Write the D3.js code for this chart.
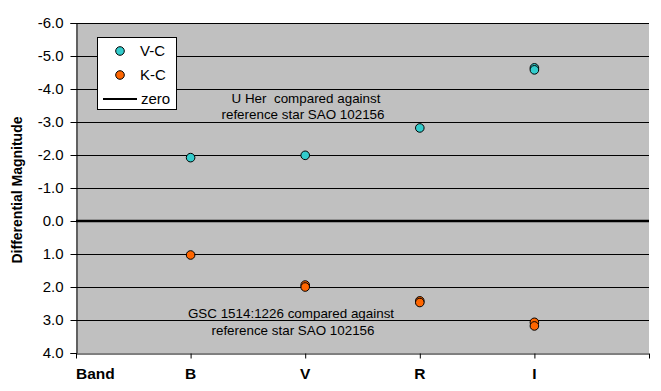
<!DOCTYPE html>
<html><head><meta charset="utf-8">
<script src="https://cdn.jsdelivr.net/npm/d3@7"></script>
<style>
body{margin:0;background:#fff;}
svg{display:block;font-family:"Liberation Sans",Arial,sans-serif;}
</style></head>
<body><svg id="c" width="661" height="391"></svg>
<script>
// Data
const bands = ["Band", "B", "V", "R", "I"];
const bandPos = [0, 1, 2, 3, 4];
const vcX = [1, 2, 3, 4, 4];
const vcY = [-1.92, -1.99, -2.82, -4.64, -4.58];
const kcX = [1, 2, 2, 3, 3, 4, 4];
const kcY = [1.03, 1.94, 2.0, 2.42, 2.47, 3.07, 3.18];
const zeroX = [0, 5];
const zeroY = [0, 0];
const yTicks = [-6, -5, -4, -3, -2, -1, 0, 1, 2, 3, 4];
const xTicks = [0, 1, 2, 3, 4, 5];

const svg = d3.select("#c");
const L = 76, R = 649, T = 23, B = 353;
const x = d3.scaleLinear().domain([0, 5]).range([L, R]);
const y = d3.scaleLinear().domain([-6, 4]).range([T, B]);

// plot background
svg.append("rect").attr("x", L).attr("y", T).attr("width", R - L).attr("height", B - T).attr("fill", "#c0c0c0");

// gridlines
svg.append("g").selectAll("line").data(yTicks.filter(d => d !== 0 && d !== 4)).join("line")
  .attr("x1", L).attr("x2", R).attr("y1", d => Math.round(y(d)) + 0.5).attr("y2", d => Math.round(y(d)) + 0.5)
  .attr("stroke", "#000").attr("stroke-width", 1);

// y axis
const yAxis = d3.axisLeft(y).tickValues(yTicks).tickFormat(d3.format(".1f")).tickSize(6).tickPadding(7);
const gy = svg.append("g").attr("transform", `translate(${L + 0.5},0)`).call(yAxis);
gy.select(".domain").attr("stroke", "#000");
gy.selectAll(".tick text").attr("font-size", 15).attr("fill", "#000").attr("font-family", "Liberation Sans, Arial, sans-serif")
  .text(d => d3.format(".1f")(d).replace("−", "-"));

// x axis
const xAxis = d3.axisBottom(x).tickValues(xTicks).tickSize(5).tickFormat("");
const gx = svg.append("g").attr("transform", `translate(0,${B + 0.5})`).call(xAxis);
gx.select(".domain").attr("d", `M${L},0.5H${R}`).attr("stroke", "#000");

// band labels
svg.append("g").selectAll("text").data(bands).join("text")
  .attr("x", (d, i) => x(bandPos[i]))
  .attr("y", 379)
  .attr("text-anchor", (d, i) => i === 0 ? "start" : "middle")
  .attr("font-weight", "bold").attr("font-size", 15.5).text(d => d);

// zero line series
const zeroData = zeroX.map((v, i) => [v, zeroY[i]]);
svg.append("path").datum(zeroData)
  .attr("d", d3.line().x(d => x(d[0])).y(d => y(d[1])))
  .attr("stroke", "#000").attr("stroke-width", 2.5).attr("fill", "none");

// y axis title
svg.append("text").attr("transform", "translate(22,190) rotate(-90)")
  .attr("text-anchor", "middle").attr("font-weight", "bold").attr("font-size", 14)
  .text("Differential Magnitude");

// annotations
const ann = svg.append("g").attr("font-size", 13.4).attr("fill", "#000");
ann.append("text").attr("x", 306).attr("y", 103).attr("text-anchor", "middle").attr("xml:space", "preserve").text("U Her  compared against");
ann.append("text").attr("x", 303).attr("y", 119).attr("text-anchor", "middle").text("reference star SAO 102156");
ann.append("text").attr("x", 291).attr("y", 318).attr("text-anchor", "middle").text("GSC 1514:1226 compared against");
ann.append("text").attr("x", 293).attr("y", 335).attr("text-anchor", "middle").text("reference star SAO 102156");

// points
const vc = vcX.map((v, i) => [v, vcY[i]]);
const kc = kcX.map((v, i) => [v, kcY[i]]);
svg.append("g").selectAll("circle").data(vc).join("circle")
  .attr("cx", d => x(d[0])).attr("cy", d => y(d[1])).attr("r", 4.3)
  .attr("fill", "#33cccc").attr("stroke", "#000").attr("stroke-width", 1);
svg.append("g").selectAll("circle").data(kc).join("circle")
  .attr("cx", d => x(d[0])).attr("cy", d => y(d[1])).attr("r", 4.3)
  .attr("fill", "#ff6600").attr("stroke", "#000").attr("stroke-width", 1);

// legend
const lg = svg.append("g");
lg.append("rect").attr("x", 97.5).attr("y", 37.5).attr("width", 79).attr("height", 72)
  .attr("fill", "#fff").attr("stroke", "#000");
lg.append("circle").attr("cx", 120).attr("cy", 51).attr("r", 4.3).attr("fill", "#33cccc").attr("stroke", "#000");
lg.append("circle").attr("cx", 120).attr("cy", 75).attr("r", 4.3).attr("fill", "#ff6600").attr("stroke", "#000");
lg.append("line").attr("x1", 103).attr("x2", 137).attr("y1", 99).attr("y2", 99).attr("stroke", "#000").attr("stroke-width", 2);
lg.append("text").attr("x", 140).attr("y", 56).attr("font-size", 15).text("V-C");
lg.append("text").attr("x", 140).attr("y", 80).attr("font-size", 15).text("K-C");
lg.append("text").attr("x", 141).attr("y", 104).attr("font-size", 15).text("zero");
</script></body></html>
